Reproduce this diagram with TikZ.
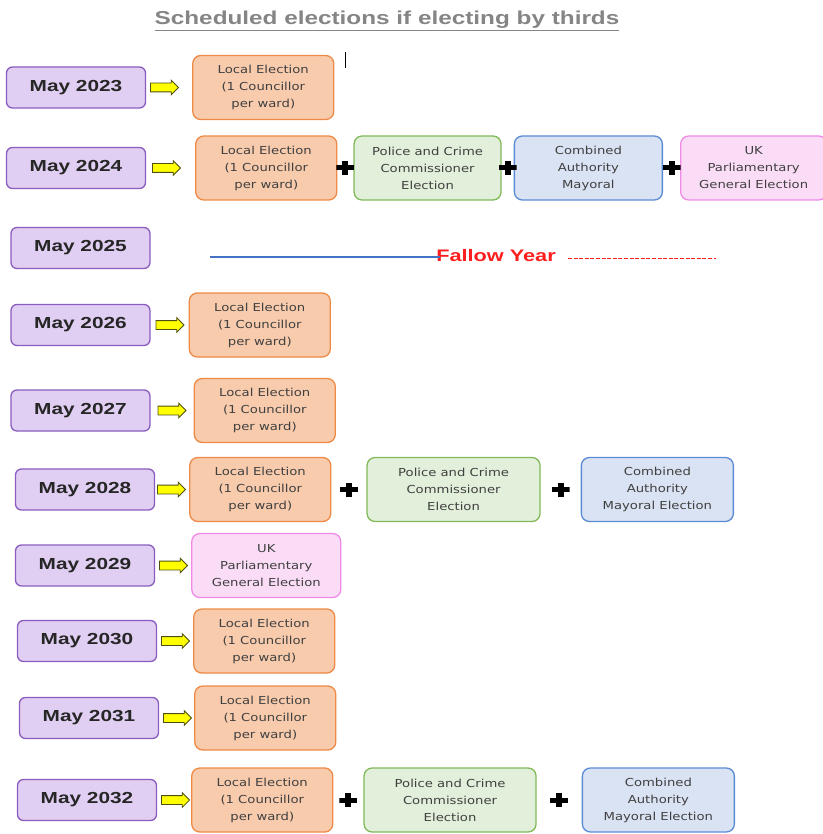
\documentclass[tikz,border=0pt]{standalone}
\usepackage{fontspec}
\usepackage{tikz}
\usetikzlibrary{arrows.meta,calc,positioning,shapes.arrows}
\setmainfont{Liberation Sans}
\newfontfamily\yearfont{Liberation Sans}[FakeStretch=1.3]
\newfontfamily\boxfont{DejaVu Sans}[FakeStretch=1.2]
\definecolor{yearfill}{HTML}{E0CFF2}
\definecolor{yearedge}{HTML}{8A5CC0}
\definecolor{localfill}{HTML}{F8CBAD}
\definecolor{localedge}{HTML}{EE8A45}
\definecolor{pccfill}{HTML}{E2EFDA}
\definecolor{pccedge}{HTML}{80B958}
\definecolor{cafill}{HTML}{DAE3F3}
\definecolor{caedge}{HTML}{5B8BD5}
\definecolor{ukfill}{HTML}{FADCF6}
\definecolor{ukedge}{HTML}{F08AE6}
\definecolor{arrowfill}{HTML}{FFFF00}
\definecolor{arrowedge}{HTML}{4F4F14}
\definecolor{boxtext}{HTML}{404040}
\definecolor{titlegray}{HTML}{858585}
\definecolor{fallowred}{HTML}{FF1E1E}
\definecolor{fallowblue}{HTML}{4472C4}
\newcommand{\localtext}{Local Election\\(1 Councillor\\per ward)}
\newcommand{\pcctext}{Police and Crime\\Commissioner\\Election}

\begin{document}
\begin{tikzpicture}[x=1pt,y=-1pt,
  every node/.style={inner sep=0pt},
  yearbox/.style={draw=yearedge,line width=1.3pt,rounded corners=6pt,fill=yearfill,minimum width=139pt,minimum height=41pt,text=black!85,font=\yearfont\bfseries\fontsize{16}{18}\selectfont},
  elbox/.style={rounded corners=8pt,line width=1.3pt,minimum height=64pt,align=center,text=boxtext,font=\boxfont\fontsize{11}{17}\selectfont},
  local/.style={elbox,draw=localedge,fill=localfill,minimum width=141pt},
  pcc/.style={elbox,draw=pccedge,fill=pccfill,minimum width=147pt},
  mayor/.style={elbox,draw=caedge,fill=cafill,minimum width=152pt},
  ukpe/.style={elbox,draw=ukedge,fill=ukfill,minimum width=146pt},
  goarrow/.style={single arrow,draw=arrowedge,fill=arrowfill,line width=0.8pt,inner xsep=0pt,inner ysep=4pt,minimum height=28pt,single arrow head extend=3pt},
  plus/.style={minimum width=18pt,minimum height=14pt,path picture={
    \fill[black] ([xshift=-9pt,yshift=-2.5pt]path picture bounding box.center) rectangle ([xshift=9pt,yshift=2.5pt]path picture bounding box.center);
    \fill[black] ([xshift=-3pt,yshift=-7pt]path picture bounding box.center) rectangle ([xshift=3pt,yshift=7pt]path picture bounding box.center);}}
]
\useasboundingbox (0,0) rectangle (822,834);

\node[text=titlegray,font=\yearfont\bfseries\fontsize{18.7}{20}\selectfont] (title) at (387,21) {\underline{Scheduled elections if electing by thirds}};
\draw[line width=1pt] (345,52) -- (345,68);

\node[yearbox] (y23) at (76,87.5) {May 2023};
\node[goarrow,right=4pt of y23] (a23) {};
\node[local,right=13pt of a23] (l23) {\localtext};

\node[yearbox] (y24) at (76,168) {May 2024};
\node[goarrow,right=6pt of y24] (a24) {};
\node[local,right=14pt of a24] (l24) {\localtext};
\node[pcc,right=16pt of l24] (p24) {\pcctext};
\node[mayor,right=12pt of p24,minimum width=148pt] (m24) {Combined\\Authority\\Mayoral};
\node[ukpe,right=17pt of m24] (u24) {UK\\Parliamentary\\General Election};
\node[plus] (x24a) at ($(l24.east)!.5!(p24.west)$) {};
\node[plus] (x24b) at ($(p24.east)!.5!(m24.west)$) {};
\node[plus] (x24c) at ($(m24.east)!.5!(u24.west)$) {};

\node[yearbox] (y25) at (80.5,248) {May 2025};
\coordinate (fl) at (210,257);
\coordinate (fr) at (716,258);
\node[text=fallowred,font=\yearfont\bfseries\fontsize{16.7}{18}\selectfont] (fy) at (496,256) {Fallow Year};
\draw[fallowblue,line width=1.1pt] (fl) -- ([xshift=4pt]fy.west |- fl);
\draw[fallowred,line width=0.9pt,dash pattern=on 4pt off 1.6pt] ([xshift=12pt]fy.east |- fr) -- (fr);

\node[yearbox] (y26) at (80.5,325) {May 2026};
\node[goarrow,right=5pt of y26] (a26) {};
\node[local,right=4pt of a26] (l26) {\localtext};

\node[yearbox] (y27) at (80.5,410.5) {May 2027};
\node[goarrow,right=7pt of y27] (a27) {};
\node[local,right=7pt of a27] (l27) {\localtext};

\node[yearbox] (y28) at (85,489.5) {May 2028};
\node[goarrow,right=2pt of y28] (a28) {};
\node[local,right=3pt of a28] (l28) {\localtext};
\node[pcc,right=35pt of l28,minimum width=173pt] (p28) {\pcctext};
\node[mayor,right=40pt of p28] (m28) {Combined\\Authority\\Mayoral Election};
\node[plus] (x28a) at ($(l28.east)!.5!(p28.west)$) {};
\node[plus] (x28b) at ($(p28.east)!.5!(m28.west)$) {};

\node[yearbox] (y29) at (85,565.5) {May 2029};
\node[goarrow,right=4pt of y29] (a29) {};
\node[ukpe,right=3pt of a29,minimum width=149pt] (u29) {UK\\Parliamentary\\General Election};

\node[yearbox] (y30) at (87,641) {May 2030};
\node[goarrow,right=4pt of y30] (a30) {};
\node[local,right=3pt of a30] (l30) {\localtext};

\node[yearbox] (y31) at (89,718) {May 2031};
\node[goarrow,right=4pt of y31] (a31) {};
\node[local,right=2pt of a31] (l31) {\localtext};

\node[yearbox] (y32) at (87,800) {May 2032};
\node[goarrow,right=4pt of y32] (a32) {};
\node[local,right=1pt of a32] (l32) {\localtext};
\node[pcc,right=30pt of l32,minimum width=172pt] (p32) {\pcctext};
\node[mayor,right=45pt of p32] (m32) {Combined\\Authority\\Mayoral Election};
\node[plus] (x32a) at ($(l32.east)!.5!(p32.west)$) {};
\node[plus] (x32b) at ($(p32.east)!.5!(m32.west)$) {};
\end{tikzpicture}
\end{document}
